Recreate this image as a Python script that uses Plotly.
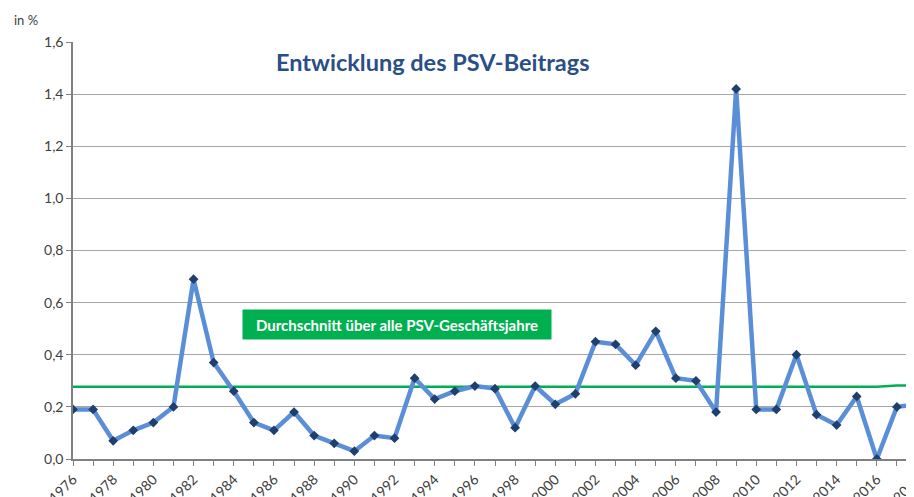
import plotly.graph_objects as go

years = list(range(1976, 2019))
beitrag = [0.19, 0.19, 0.07, 0.11, 0.14, 0.20, 0.69, 0.37, 0.26, 0.14,
           0.11, 0.18, 0.09, 0.06, 0.03, 0.09, 0.08, 0.31, 0.23, 0.26,
           0.28, 0.27, 0.12, 0.28, 0.21, 0.25, 0.45, 0.44, 0.36, 0.49,
           0.31, 0.30, 0.18, 1.42, 0.19, 0.19, 0.40, 0.17, 0.13, 0.24,
           0.00, 0.20, 0.21]
durchschnitt = [0.277] * 41 + [0.282, 0.283]
ytick_vals = [0, 0.2, 0.4, 0.6, 0.8, 1.0, 1.2, 1.4, 1.6]
ytick_text = ["0,0", "0,2", "0,4", "0,6", "0,8", "1,0", "1,2", "1,4", "1,6"]
xtick_vals = list(range(1976, 2019, 2))
xtick_text = [str(y) for y in xtick_vals]

fig = go.Figure()
fig.add_trace(go.Scatter(x=years, y=durchschnitt, mode="lines",
                         line=dict(color="#00B050", width=2.5),
                         hoverinfo="skip", showlegend=False, cliponaxis=False))
fig.add_trace(go.Scatter(x=years, y=beitrag, mode="lines+markers",
                         line=dict(color="#5A8FD8", width=4.5),
                         marker=dict(symbol="diamond", size=7.5, color="#1F3F6E"),
                         showlegend=False))

# the page body adds an 8px offset, so margins are shifted to compensate
fig.update_layout(
    width=914, height=497,
    margin=dict(l=65, r=5, t=34, b=46, autoexpand=False),
    plot_bgcolor="white", paper_bgcolor="white",
    font=dict(family="Lato, Open Sans, sans-serif", color="#404040", size=14),
    xaxis=dict(range=[1976, 2018], tickvals=xtick_vals, ticktext=xtick_text,
               tickangle=-45, showgrid=False, showline=True, linecolor="#808080",
               linewidth=1.5, ticks="outside", ticklen=5, tickcolor="#808080",
               minor=dict(dtick=1, ticks="outside", ticklen=5, tickcolor="#808080",
                          showgrid=False),
               zeroline=False, automargin=False, ticklabeloverflow="allow",
               tickfont=dict(size=14, color="#404040")),
    yaxis=dict(range=[0, 1.6], tickvals=ytick_vals, ticktext=ytick_text,
               showgrid=True, gridcolor="#A6A6A6", gridwidth=1.2,
               showline=True, linecolor="#808080", linewidth=1.5,
               ticks="outside", ticklen=5, tickcolor="#808080",
               zeroline=False, automargin=False,
               tickfont=dict(size=14, color="#404040")),
    annotations=[
        dict(text="in %", xref="paper", yref="paper", x=-0.0725, y=1.053,
             xanchor="left", yanchor="middle", showarrow=False,
             font=dict(size=13, color="#404040")),
        dict(text="<b>Entwicklung des PSV-Beitrags</b>", xref="paper", yref="paper",
             x=0.4257, y=0.952, xanchor="center", yanchor="middle", showarrow=False,
             font=dict(size=23.5, color="#2A4E86")),
        dict(text="<b>Durchschnitt über alle PSV-Geschäftsjahre</b>", xref="paper", yref="paper",
             x=0.1998, y=0.2854, xanchor="left", yanchor="bottom", showarrow=False,
             bgcolor="#00B050", font=dict(size=15, color="white"),
             borderpad=4, width=300, height=21),
    ],
)

fig.write_html("out.html")
